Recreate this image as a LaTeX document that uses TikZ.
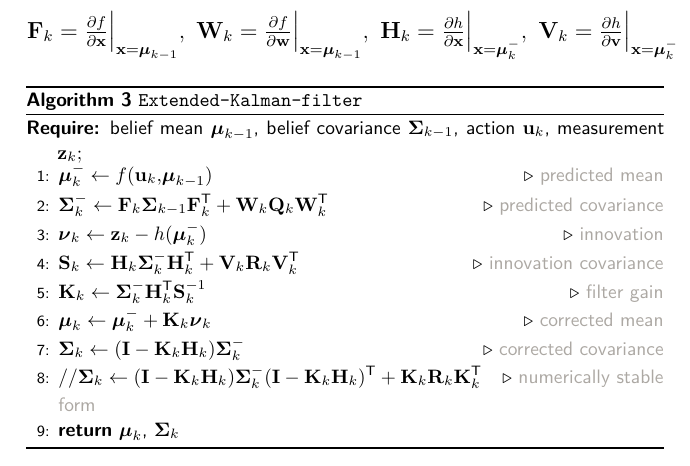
\documentclass[tikz,border=0pt]{standalone}
\usepackage{xcolor}
\usepackage{amsmath}
\usepackage{amssymb}
\usepackage{tikz}

\definecolor{cmtgray}{RGB}{172,168,163}
\newcommand{\cmtxt}[1]{$\triangleright$ \textcolor{cmtgray}{#1}}
\newcommand{\tr}{^{\mathsf{T}}}
\newcommand{\evalat}[3]{\frac{\partial #1}{\partial\mathbf{#2}}\Big|_{\mathbf{x}=#3}}

\begin{document}
\begin{tikzpicture}[x=0.515pt,y=-0.515pt,
		num/.style={anchor=base east,inner sep=0pt,font=\sffamily\footnotesize},
		stmt/.style={anchor=base west,inner sep=0pt},
		cmt/.style={anchor=base east,inner sep=0pt,font=\sffamily},
		toprule/.style={line width=0.9pt},
		midrule/.style={line width=0.45pt},
		botrule/.style={line width=0.7pt}]
		\useasboundingbox (0,0) rectangle (690,465);
		% Jacobians
		\node [stmt,font=\fontsize{11.6}{14}\selectfont] (jac) at (26.7,38)
			{$\mathbf{F}_k=\evalat{f}{x}{\boldsymbol{\mu}_{k-1}},\ 
			\mathbf{W}_k=\evalat{f}{w}{\boldsymbol{\mu}_{k-1}},\ 
			\mathbf{H}_k=\evalat{h}{x}{\boldsymbol{\mu}_k^-},\ 
			\mathbf{V}_k=\evalat{h}{v}{\boldsymbol{\mu}_k^-}$};
		% rules
		\coordinate (tl) at (26,87);
		\coordinate (tr) at (664,87);
		\coordinate (ml) at (26,114);
		\coordinate (mr) at (664,114);
		\coordinate (bl) at (26,448);
		\coordinate (br) at (664,448);
		\draw [toprule] (tl) -- (tr);
		\draw [midrule] (ml) -- (mr);
		\draw [botrule] (bl) -- (br);
		% caption
		\node [stmt,font=\sffamily] (cap) at (26,106)
			{\textbf{Algorithm 3} \texttt{Extended-Kalman-filter}};
		\node [stmt,font=\sffamily] (req) at (26,134)
			{\hbox to 328.6pt{\textbf{Require:} belief mean $\boldsymbol{\mu}_{k-1}$, belief covariance $\boldsymbol{\Sigma}_{k-1}$, action $\mathbf{u}_k$, measurement}};
		\node [stmt] (req2) at (57,159) {$\mathbf{z}_k;$};
		% steps
		\node [num] (n1) at (50,181) {1:};
		\node [stmt] (l1) at (58,181) {$\boldsymbol{\mu}_k^-\leftarrow f(\mathbf{u}_k{,}\boldsymbol{\mu}_{k-1})$};
		\node [cmt] (c1) at (664,181) {\cmtxt{predicted mean}};
		\node [num] (n2) at (50,211) {2:};
		\node [stmt] (l2) at (58,211) {$\boldsymbol{\Sigma}_k^-\leftarrow\mathbf{F}_k\boldsymbol{\Sigma}_{k-1}\mathbf{F}_k\tr+\mathbf{W}_k\mathbf{Q}_k\mathbf{W}_k\tr$};
		\node [cmt] (c2) at (664,211) {\cmtxt{predicted covariance}};
		\node [num] (n3) at (50,240) {3:};
		\node [stmt] (l3) at (58,240) {$\boldsymbol{\nu}_k\leftarrow\mathbf{z}_k-h(\boldsymbol{\mu}_k^-)$};
		\node [cmt] (c3) at (664,240) {\cmtxt{innovation}};
		\node [num] (n4) at (50,269) {4:};
		\node [stmt] (l4) at (58,269) {$\mathbf{S}_k\leftarrow\mathbf{H}_k\boldsymbol{\Sigma}_k^-\mathbf{H}_k\tr+\mathbf{V}_k\mathbf{R}_k\mathbf{V}_k\tr$};
		\node [cmt] (c4) at (664,269) {\cmtxt{innovation covariance}};
		\node [num] (n5) at (50,298) {5:};
		\node [stmt] (l5) at (58,298) {$\mathbf{K}_k\leftarrow\boldsymbol{\Sigma}_k^-\mathbf{H}_k\tr\mathbf{S}_k^{-1}$};
		\node [cmt] (c5) at (664,298) {\cmtxt{filter gain}};
		\node [num] (n6) at (50,326) {6:};
		\node [stmt] (l6) at (58,326) {$\boldsymbol{\mu}_k\leftarrow\boldsymbol{\mu}_k^-+\mathbf{K}_k\boldsymbol{\nu}_k$};
		\node [cmt] (c6) at (664,326) {\cmtxt{corrected mean}};
		\node [num] (n7) at (50,355) {7:};
		\node [stmt] (l7) at (58,355) {$\boldsymbol{\Sigma}_k\leftarrow(\mathbf{I}-\mathbf{K}_k\mathbf{H}_k)\boldsymbol{\Sigma}_k^-$};
		\node [cmt] (c7) at (664,355) {\cmtxt{corrected covariance}};
		\node [num] (n8) at (50,383) {8:};
		\node [stmt] (l8) at (58,383) {$//\boldsymbol{\Sigma}_k\leftarrow(\mathbf{I}-\mathbf{K}_k\mathbf{H}_k)\boldsymbol{\Sigma}_k^-(\mathbf{I}-\mathbf{K}_k\mathbf{H}_k)\tr+\mathbf{K}_k\mathbf{R}_k\mathbf{K}_k\tr$};
		\node [cmt] (c8) at (664,383) {\cmtxt{numerically stable}};
		\node [stmt,font=\sffamily,text=cmtgray] (c8b) at (58,411) {form};
		\node [num] (n9) at (50,436) {9:};
		\node [stmt,font=\sffamily] (l9) at (58,436) {\textbf{return} $\boldsymbol{\mu}_k$, $\boldsymbol{\Sigma}_k$};
	\end{tikzpicture}
\end{document}
